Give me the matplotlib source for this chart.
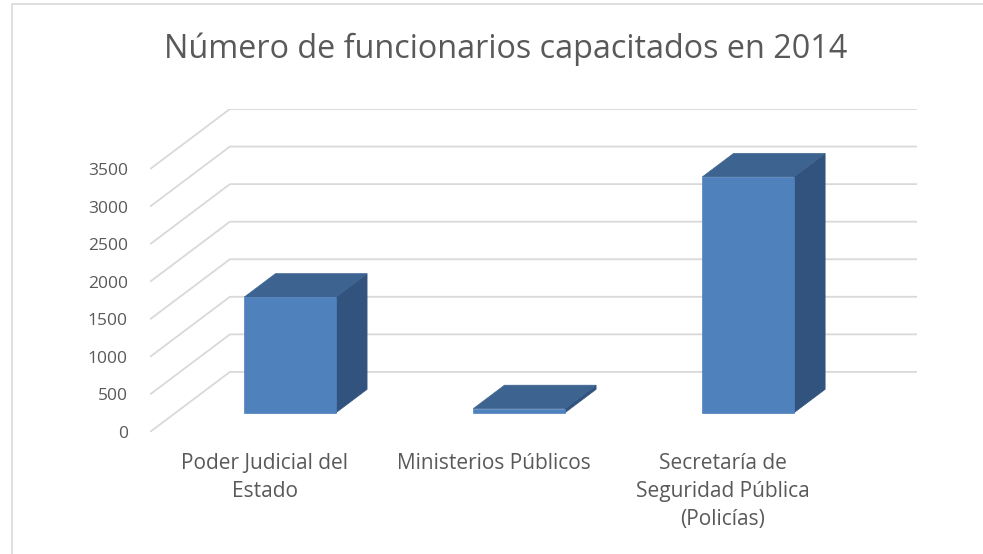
import numpy as np
import matplotlib
matplotlib.use('Agg')
import matplotlib.pyplot as plt
from matplotlib.patches import Polygon, Rectangle

# data
categories = ['Poder Judicial del\nEstado', 'Ministerios Públicos',
              'Secretaría de\nSeguridad Pública\n(Policías)']
values = [1540, 55, 3140]
yticks = [0, 500, 1000, 1500, 2000, 2500, 3000, 3500]
title = 'Número de funcionarios capacitados en 2014'

# oblique "3d" look: depth 1 shifts by (ddx, ddy) in data units
ddx = 0.349
ddy = 800
z0, z1 = 0.32, 0.71       # bar depth range
w0, w1 = 0.3, 0.7         # bar width inside its slot

txt = '#595959'
grid_c = '#d9d9d9'
front_c = '#4f81bd'
top_c = '#3d6491'
side_c = '#31537d'

plt.rcParams['font.family'] = ['Open Sans', 'DejaVu Sans']

W, H = 983, 554
fig = plt.figure(figsize=(W / 100, H / 100), dpi=100)

# chart border
fig.patches.append(Rectangle((11.5 / W, -0.1), 1.1, (H - 3.5) / H + 0.1,
                             transform=fig.transFigure, fill=False,
                             edgecolor=grid_c, linewidth=1.2))

ax = fig.add_axes([150 / W, (H - 432) / H, 767 / W, 323 / H])
ax.set_xlim(0, len(categories) + ddx)
ax.set_ylim(0, yticks[-1] + ddy)
for s in ax.spines.values():
    s.set_visible(False)

def proj(x, v, z):
    return (x + z * ddx, v + z * ddy)

# gridlines on side wall and back wall
for v in yticks:
    pts = [proj(0, v, 0), proj(0, v, 1), proj(len(categories), v, 1)]
    ax.plot([p[0] for p in pts], [p[1] for p in pts], color=grid_c,
            lw=1.3, zorder=1, solid_capstyle='butt')

# bars
for i, v in enumerate(values):
    xa, xb = i + w0, i + w1
    front = [proj(xa, 0, z0), proj(xb, 0, z0), proj(xb, v, z0), proj(xa, v, z0)]
    top = [proj(xa, v, z0), proj(xb, v, z0), proj(xb, v, z1), proj(xa, v, z1)]
    side = [proj(xb, 0, z0), proj(xb, 0, z1), proj(xb, v, z1), proj(xb, v, z0)]
    ax.add_patch(Polygon(side, closed=True, facecolor=side_c, edgecolor=side_c, lw=0.5, zorder=3))
    ax.add_patch(Polygon(top, closed=True, facecolor=top_c, edgecolor=top_c, lw=0.5, zorder=3))
    ax.add_patch(Polygon(front, closed=True, facecolor=front_c, edgecolor=front_c, lw=0.5, zorder=4))

ax.set_yticks(yticks)
ax.set_yticklabels([str(t) for t in yticks])
ax.set_xticks(np.arange(len(categories)) + 0.5)
ax.set_xticklabels(categories, linespacing=1.45)
ax.tick_params(axis='y', length=0, pad=16, labelsize=12.5, labelcolor=txt)
ax.tick_params(axis='x', length=0, pad=15, labelsize=15, labelcolor=txt)

fig.text(506 / W, 1 - 49 / H, title, ha='center', va='center',
         fontsize=23.3, color=txt)

fig.savefig('out.png', dpi=100, facecolor='white')
